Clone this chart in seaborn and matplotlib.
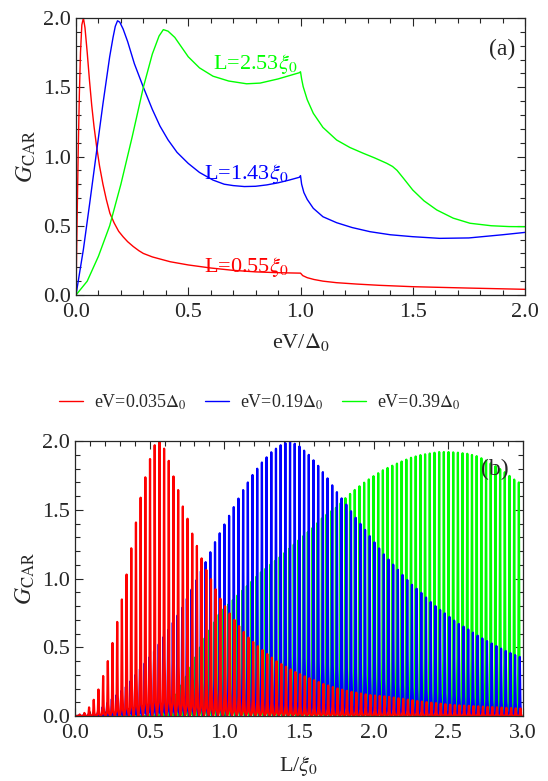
import numpy as np
import pandas as pd
import matplotlib
matplotlib.use("Agg")
import matplotlib.pyplot as plt
from matplotlib.ticker import MultipleLocator, FormatStrFormatter
import seaborn as sns

# ---- panel (a): G_CAR vs eV/Delta0 ----
red_ev = [0.0, 0.005, 0.01, 0.015, 0.02, 0.026, 0.033, 0.04, 0.05, 0.06, 0.07, 0.08, 0.092, 0.105,
          0.12, 0.135, 0.151, 0.17, 0.19, 0.21, 0.23, 0.255, 0.28, 0.3, 0.34, 0.374, 0.42, 0.5, 0.6,
          0.7, 0.8, 0.9, 0.995, 1.0, 1.01, 1.03, 1.06, 1.1, 1.16, 1.25, 1.35, 1.5, 1.75, 2.0]
red_g = [0.0, 0.55, 1.05, 1.45, 1.75, 1.95, 2.0, 1.93, 1.75, 1.55, 1.37, 1.22, 1.07, 0.93,
         0.8, 0.69, 0.59, 0.52, 0.46, 0.42, 0.385, 0.35, 0.32, 0.3, 0.275, 0.26, 0.24, 0.217, 0.195,
         0.178, 0.167, 0.161, 0.158, 0.158, 0.14, 0.125, 0.112, 0.1, 0.089, 0.079, 0.07, 0.06, 0.05, 0.041]

blue_ev = [0.0, 0.033, 0.06, 0.092, 0.12, 0.15, 0.165, 0.175, 0.185, 0.195, 0.21, 0.23, 0.26, 0.3,
           0.34, 0.374, 0.41, 0.45, 0.5, 0.55, 0.61, 0.66, 0.7, 0.75, 0.8, 0.85, 0.9, 0.95, 0.995,
           1.0, 1.005, 1.015, 1.03, 1.057, 1.1, 1.161, 1.23, 1.31, 1.4, 1.5, 1.62, 1.75, 1.9, 2.0]
blue_g = [0.0, 0.33, 0.65, 1.04, 1.38, 1.72, 1.86, 1.94, 1.98, 1.97, 1.92, 1.83, 1.67, 1.5,
          1.34, 1.22, 1.12, 1.03, 0.95, 0.885, 0.83, 0.8, 0.79, 0.783, 0.785, 0.795, 0.81, 0.83, 0.85,
          0.862, 0.8, 0.74, 0.69, 0.626, 0.565, 0.522, 0.487, 0.457, 0.435, 0.421, 0.409, 0.412, 0.435, 0.452]

green_ev = [0.0, 0.05, 0.1, 0.15, 0.2, 0.25, 0.3, 0.34, 0.37, 0.389, 0.41, 0.44, 0.47, 0.5, 0.55,
            0.61, 0.68, 0.76, 0.82, 0.9, 0.995, 1.0, 1.005, 1.012, 1.03, 1.057, 1.1, 1.161, 1.22,
            1.28, 1.33, 1.384, 1.41, 1.43, 1.46, 1.5, 1.55, 1.607, 1.68, 1.755, 1.85, 1.93, 2.0]
green_g = [0.0, 0.1, 0.28, 0.5, 0.8, 1.14, 1.5, 1.74, 1.87, 1.916, 1.905, 1.86, 1.79, 1.72, 1.64,
           1.58, 1.545, 1.525, 1.53, 1.56, 1.605, 1.612, 1.56, 1.504, 1.41, 1.312, 1.21, 1.119, 1.065,
           1.023, 0.99, 0.951, 0.928, 0.9, 0.84, 0.758, 0.68, 0.614, 0.555, 0.518, 0.5, 0.494, 0.493]

curve_labels = [r"L=0.55$\xi_0$", r"L=1.43$\xi_0$", r"L=2.53$\xi_0$"]

# ---- panel (b): G_CAR vs L/xi0, peak envelopes ----
red_env_L = [0.0, 0.067, 0.098, 0.129, 0.16, 0.19, 0.222, 0.254, 0.285, 0.316, 0.347, 0.378, 0.41,
             0.44, 0.474, 0.505, 0.534, 0.566, 0.599, 0.63, 0.66, 0.695, 0.72, 0.757, 0.788, 0.82,
             0.85, 0.88, 0.913, 0.944, 0.975, 1.004, 1.035, 1.067, 1.098, 1.129, 1.16, 1.222, 1.285,
             1.347, 1.41, 1.47, 1.535, 1.597, 1.66, 1.72, 1.78, 1.846, 1.97, 2.1, 2.32, 2.53, 2.95, 3.0]
red_env_G = [0.0, 0.024, 0.068, 0.124, 0.2, 0.296, 0.407, 0.543, 0.696, 0.858, 1.038, 1.227, 1.418,
             1.59, 1.75, 1.88, 1.97, 2.0, 1.94, 1.85, 1.74, 1.63, 1.53, 1.425, 1.316, 1.227,
             1.14, 1.06, 0.99, 0.916, 0.85, 0.8, 0.747, 0.7, 0.655, 0.613, 0.572, 0.51, 0.453,
             0.4, 0.36, 0.323, 0.29, 0.262, 0.235, 0.213, 0.194, 0.177, 0.153, 0.14, 0.105, 0.08, 0.056, 0.054]

blue_env_L = [0.0, 0.15, 0.19, 0.34, 0.53, 0.71, 0.88, 0.94, 1.004, 1.067, 1.129, 1.19, 1.254, 1.316,
              1.378, 1.44, 1.503, 1.565, 1.628, 1.69, 1.75, 1.815, 1.877, 1.94, 2.0, 2.064, 2.127,
              2.19, 2.25, 2.315, 2.376, 2.44, 2.5, 2.56, 2.625, 2.687, 2.75, 2.81, 2.87, 2.936, 3.0]
blue_env_G = [0.0, 0.02, 0.07, 0.21, 0.47, 0.77, 1.13, 1.27, 1.4, 1.527, 1.649, 1.755, 1.847, 1.92,
              1.97, 2.0, 1.96, 1.9, 1.82, 1.73, 1.634, 1.54, 1.445, 1.357, 1.27, 1.18, 1.105,
              1.03, 0.96, 0.9, 0.834, 0.775, 0.727, 0.676, 0.635, 0.59, 0.55, 0.516, 0.48, 0.448, 0.42]

green_env_L = [0.0, 0.45, 0.55, 0.65, 0.75, 0.86, 0.97, 1.11, 1.24, 1.376, 1.51, 1.6, 1.665, 1.755,
               1.82, 1.88, 1.94, 2.0, 2.066, 2.13, 2.19, 2.25, 2.315, 2.38, 2.44, 2.5, 2.565, 2.627,
               2.69, 2.75, 2.81, 2.87, 2.94, 3.0]
green_env_G = [0.0, 0.0, 0.03, 0.1, 0.3, 0.55, 0.75, 0.9, 1.04, 1.16, 1.29, 1.377, 1.45, 1.52,
               1.595, 1.65, 1.7, 1.745, 1.79, 1.823, 1.852, 1.878, 1.898, 1.91, 1.92, 1.92, 1.915, 1.907,
               1.89, 1.86, 1.82, 1.78, 1.72, 1.68]

legend_labels = [r"eV=0.035$\Delta_0$", r"eV=0.19$\Delta_0$", r"eV=0.39$\Delta_0$"]
colors = ["#ff0000", "#0000ff", "#00ff00"]

# spikes: same period for all three, shifted phase per series
period = 0.0314
phase = [0.0, -0.14, 0.66]
spike_dx = [-0.5, -0.25, -0.12, -0.05, 0.0, 0.05, 0.12, 0.25]
spike_frac = [0.0, 0.05, 0.22, 0.6, 1.0, 0.6, 0.22, 0.05]


def spike_train(env_L, env_G, ph):
    xs, ys = [], []
    for n in range(0, 100):
        p = (n + ph) * period
        if p < 0 or p > 3.0:
            continue
        h = np.interp(p, env_L, env_G)
        for dx, fr in zip(spike_dx, spike_frac):
            xs.append(p + dx * period)
            ys.append(h * fr)
    return pd.DataFrame({"L": xs, "G": ys})


sns.set_style("ticks")
plt.rcParams["font.family"] = ["Liberation Serif", "DejaVu Serif"]
plt.rcParams["mathtext.fontset"] = "stix"

fig = plt.figure(figsize=(5.48, 7.81), dpi=100)
ax1 = fig.add_axes([76 / 548, 1 - 295 / 781, 449 / 548, 277 / 781])
ax2 = fig.add_axes([75 / 548, 1 - 716 / 781, 448 / 548, 275 / 781])

for ev, g, c in [(red_ev, red_g, colors[0]), (blue_ev, blue_g, colors[1]), (green_ev, green_g, colors[2])]:
    sns.lineplot(x=ev, y=g, color=c, lw=1.0, sort=False, estimator=None, ax=ax1)

ax1.text(0.61, 1.63, curve_labels[2], color=colors[2], fontsize=16)
ax1.text(0.57, 0.84, curve_labels[1], color=colors[1], fontsize=16)
ax1.text(0.57, 0.165, curve_labels[0], color=colors[0], fontsize=16)
ax1.text(1.9, 1.77, "(a)", fontsize=17, ha="center", va="center")
ax1.set_xlim(0, 2)
ax1.set_ylim(0, 2)
ax1.set_xlabel(r"eV/$\Delta_0$", fontsize=16, labelpad=6)
ax1.set_ylabel(r"$G_{\rm CAR}$", fontsize=17, labelpad=4)

series_b = [(green_env_L, green_env_G, phase[2], colors[2], legend_labels[2]),
            (blue_env_L, blue_env_G, phase[1], colors[1], legend_labels[1]),
            (red_env_L, red_env_G, phase[0], colors[0], legend_labels[0])]
for eL, eG, ph, c, lab in series_b:
    df = spike_train(eL, eG, ph)
    sns.lineplot(data=df, x="L", y="G", color=c, lw=1.6, sort=False, estimator=None, ax=ax2, label=lab)

ax2.text(2.81, 1.79, "(b)", fontsize=17, ha="center", va="center")
ax2.set_xlim(0, 3)
ax2.set_ylim(0, 2)
ax2.set_xlabel(r"L/$\xi_0$", fontsize=16, labelpad=8)
ax2.set_ylabel(r"$G_{\rm CAR}$", fontsize=17, labelpad=4)

handles, labels = ax2.get_legend_handles_labels()
ax2.get_legend().remove()
order = [labels.index(l) for l in legend_labels]
leg = fig.legend([handles[i] for i in order], [labels[i] for i in order], loc="center",
                 bbox_to_anchor=(260 / 548, 1 - 402 / 781), ncol=3, frameon=False, fontsize=13,
                 handlelength=1.35, handletextpad=0.6, columnspacing=1.0)
for h in leg.get_lines():
    h.set_linewidth(1.0)

for ax in (ax1, ax2):
    ax.xaxis.set_major_locator(MultipleLocator(0.5))
    ax.xaxis.set_minor_locator(MultipleLocator(0.1))
    ax.yaxis.set_major_locator(MultipleLocator(0.5))
    ax.yaxis.set_minor_locator(MultipleLocator(0.1))
    ax.xaxis.set_major_formatter(FormatStrFormatter("%.1f"))
    ax.yaxis.set_major_formatter(FormatStrFormatter("%.1f"))
    ax.tick_params(which="both", direction="in", top=True, right=True, labelsize=16, width=0.8)
    ax.tick_params(which="major", length=6)
    ax.tick_params(which="minor", length=3.5)
    ax.tick_params(axis="x", which="major", pad=6)
    for s in ax.spines.values():
        s.set_linewidth(0.9)
        s.set_visible(True)

fig.savefig("out.png", dpi=100)
